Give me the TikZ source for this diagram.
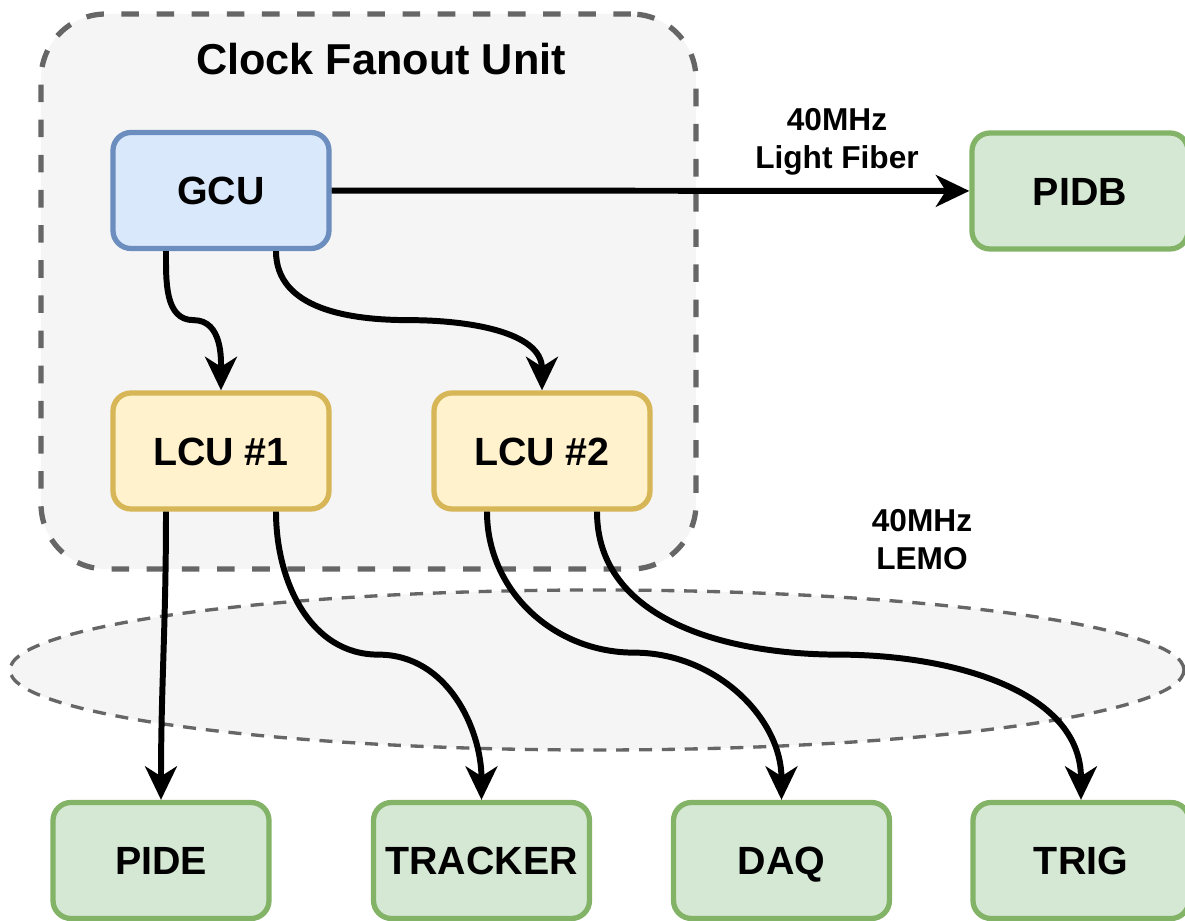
\documentclass[tikz,border=0pt]{standalone}
\usepackage{fontspec}
\setmainfont{Liberation Sans}
\usetikzlibrary{arrows.meta}

\definecolor{cfufill}{HTML}{F5F5F5}
\definecolor{cfuline}{HTML}{666666}
\definecolor{gcufill}{HTML}{DAE8FC}
\definecolor{gculine}{HTML}{6C8EBF}
\definecolor{lcufill}{HTML}{FFF2CC}
\definecolor{lculine}{HTML}{D6B656}
\definecolor{devfill}{HTML}{D5E8D4}
\definecolor{devline}{HTML}{82B366}

\begin{document}
\begin{tikzpicture}[>={Stealth[length=9.5pt,width=9pt,inset=2.8pt]},
    unit/.style={rounded corners=0.18cm, line width=1.5pt, minimum width=2.16cm, minimum height=1.16cm, text height=8.1pt, text depth=0pt, font=\fontsize{11.2}{13}\selectfont\bfseries},
    gcubox/.style={unit, fill=gcufill, draw=gculine},
    lcubox/.style={unit, fill=lcufill, draw=lculine},
    devbox/.style={unit, fill=devfill, draw=devline},
    wire/.style={->, line width=1.7pt},
    note/.style={align=center, font=\fontsize{9}{10.8}\selectfont\bfseries}]
    \useasboundingbox (0,0) rectangle (11.85,-9.21);

    % Fanout unit
    \node[draw=cfuline, fill=cfufill, line width=1.5pt, dash pattern=on 5pt off 5pt, rounded corners=0.65cm, minimum width=6.55cm, minimum height=5.55cm] (cfu) at (3.685,-2.915) {};
    \node[anchor=base, font=\fontsize{12.3}{14}\selectfont\bfseries] (title) at (3.81,-0.75) {Clock Fanout Unit};

    % LEMO region
    \draw[draw=cfuline, fill=cfufill, line width=0.95pt, dash pattern=on 3.7pt off 2.8pt] (5.97,-6.70) ellipse (5.87 and 0.80);

    % Units
    \node[gcubox] (gcu) at (2.21,-1.905) {GCU};
    \node[lcubox] (lcua) at (2.21,-4.51) {LCU \#1};
    \node[lcubox] (lcub) at (5.42,-4.51) {LCU \#2};

    % Receivers
    \node[devbox] (pidb) at (10.80,-1.91) {PIDB};
    \node[devbox] (pide) at (1.61,-8.605) {PIDE};
    \node[devbox] (tracker) at (4.815,-8.605) {TRACKER};
    \node[devbox] (daq) at (7.815,-8.605) {DAQ};
    \node[devbox] (trig) at (10.81,-8.605) {TRIG};

    % Links
    \draw[wire] (gcu) -- (pidb);
    \draw[wire] ([xshift=-0.55cm]gcu.south) to[out=-90,in=180] ++(0.275,-0.69) to[out=0,in=90] (lcua.north);
    \draw[wire] ([xshift=0.55cm]gcu.south) to[out=-90,in=180] ++(1.33,-0.69) to[out=0,in=90] (lcub.north);
    \draw[wire] ([xshift=-0.55cm]lcua.south) to[out=-90,in=90] (pide.north);
    \draw[wire] ([xshift=0.55cm]lcua.south) to[out=-90,in=180] ++(1.025,-1.43) to[out=0,in=90] (tracker.north);
    \draw[wire] ([xshift=-0.55cm]lcub.south) to[out=-90,in=180] ++(1.47,-1.41) to[out=0,in=90] (daq.north);
    \draw[wire] ([xshift=0.55cm]lcub.south) to[out=-90,in=180] ++(2.42,-1.43) to[out=0,in=90] (trig.north);

    % Labels
    \node[note] (fiber) at (8.37,-1.42) {40MHz\\Light Fiber};
    \node[note] (lemo) at (9.22,-5.40) {40MHz\\LEMO};
\end{tikzpicture}
\end{document}
